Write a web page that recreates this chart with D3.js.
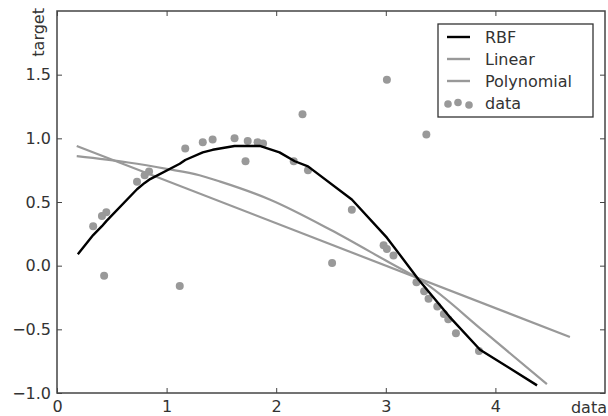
<!DOCTYPE html>
<html>
<meta charset="utf-8">
<head>
    <script src="https://d3js.org/d3.v7.min.js"></script>
    <style>
        body { margin: 0; background: #fff; }
        text { font-family: "DejaVu Sans", sans-serif; fill: #333; }
    </style>
</head>
<body>
    <script>
        // scattered data points (x, target)
        var dataX = [0.33, 0.41, 0.45, 0.43, 0.73, 0.80, 0.84, 1.12, 1.17, 1.33, 1.42, 1.62, 1.72, 1.74,
                     1.83, 1.88, 2.16, 2.24, 2.29, 2.51, 2.69, 2.98, 3.01, 3.01, 3.07, 3.28, 3.35, 3.37,
                     3.39, 3.47, 3.53, 3.57, 3.64, 3.85];
        var dataY = [0.31, 0.39, 0.42, -0.08, 0.66, 0.71, 0.74, -0.16, 0.92, 0.97, 0.99, 1.00, 0.82, 0.98,
                     0.97, 0.96, 0.82, 1.19, 0.75, 0.02, 0.44, 0.16, 0.13, 1.46, 0.08, -0.13, -0.20, 1.03,
                     -0.26, -0.32, -0.38, -0.42, -0.53, -0.67];

        // model predictions
        var rbfX = [0.19, 0.33, 0.41, 0.45, 0.73, 0.80, 0.85, 1.12, 1.17, 1.33, 1.42, 1.62, 1.74, 1.85,
                    2.03, 2.17, 2.29, 2.69, 3.01, 3.30, 3.58, 3.86, 4.38];
        var rbfY = [0.09, 0.24, 0.31, 0.35, 0.60, 0.65, 0.68, 0.80, 0.83, 0.89, 0.91, 0.94, 0.94, 0.94,
                    0.89, 0.82, 0.78, 0.52, 0.22, -0.11, -0.40, -0.66, -0.94];

        var linX = [0.18, 4.68];
        var linY = [0.94, -0.56];

        var polyX = [0.18, 0.65, 1.00, 1.30, 1.49, 1.94, 2.50, 3.00, 3.33, 3.90, 4.47];
        var polyY = [0.86, 0.81, 0.76, 0.71, 0.66, 0.52, 0.28, 0.04, -0.12, -0.52, -0.93];

        var xTicks = [0, 1, 2, 3, 4];
        var yTicks = [-1.0, -0.5, 0.0, 0.5, 1.0, 1.5];

        var width = 608, height = 416;
        var pLeft = 57, pRight = 605, pTop = 11, pBottom = 393;

        var svg = d3.select("body").append("svg")
            .attr("width", width)
            .attr("height", height);

        var x = d3.scaleLinear().domain([0, 5]).range([pLeft, pRight]);
        var y = d3.scaleLinear().domain([-1, 2]).range([pBottom, pTop]);

        var fmt = function(d) { return d3.format(".1f")(d).replace("-", "\u2212"); };

        // axes with inward ticks
        svg.append("g")
            .attr("transform", "translate(0," + pBottom + ")")
            .call(d3.axisBottom(x).tickValues(xTicks).tickSize(-5).tickPadding(8).tickFormat(d3.format("d")))
            .call(styleAxis);
        svg.append("g")
            .attr("transform", "translate(0," + pTop + ")")
            .call(d3.axisTop(x).tickValues(xTicks).tickSize(-5).tickFormat(""))
            .call(styleAxis);
        svg.append("g")
            .attr("transform", "translate(" + pLeft + ",0)")
            .call(d3.axisLeft(y).tickValues(yTicks).tickSize(-5).tickPadding(6).tickFormat(fmt))
            .call(styleAxis);
        svg.append("g")
            .attr("transform", "translate(" + pRight + ",0)")
            .call(d3.axisRight(y).tickValues(yTicks).tickSize(-5).tickFormat(""))
            .call(styleAxis);

        function styleAxis(g) {
            g.select(".domain").remove();
            g.selectAll(".tick line").attr("stroke", "#444").attr("stroke-width", 1);
            g.selectAll(".tick text").attr("font-size", 16).attr("fill", "#333")
                .attr("font-family", "DejaVu Sans, sans-serif");
        }

        svg.append("rect")
            .attr("x", pLeft).attr("y", pTop)
            .attr("width", pRight - pLeft).attr("height", pBottom - pTop)
            .attr("fill", "none").attr("stroke", "#444").attr("stroke-width", 1.5);

        svg.append("text")
            .attr("x", 607).attr("y", 413)
            .attr("text-anchor", "end")
            .attr("font-size", 16)
            .text("data");

        svg.append("text")
            .attr("transform", "translate(44,8) rotate(-90)")
            .attr("text-anchor", "end")
            .attr("font-size", 16)
            .text("target");

        var line = d3.line().x(function(d) { return x(d[0]); }).y(function(d) { return y(d[1]); });
        var smooth = d3.line().curve(d3.curveMonotoneX)
            .x(function(d) { return x(d[0]); }).y(function(d) { return y(d[1]); });

        svg.append("g").selectAll("circle")
            .data(d3.zip(dataX, dataY))
            .enter().append("circle")
            .attr("cx", function(d) { return x(d[0]); })
            .attr("cy", function(d) { return y(d[1]); })
            .attr("r", 4)
            .attr("fill", "#999");

        svg.append("path").datum(d3.zip(polyX, polyY))
            .attr("d", smooth).attr("fill", "none").attr("stroke", "#999").attr("stroke-width", 2.2);
        svg.append("path").datum(d3.zip(linX, linY))
            .attr("d", line).attr("fill", "none").attr("stroke", "#999").attr("stroke-width", 2.2);
        svg.append("path").datum(d3.zip(rbfX, rbfY))
            .attr("d", line).attr("fill", "none").attr("stroke", "#000").attr("stroke-width", 2.4)
            .attr("stroke-linejoin", "round");

        // legend
        var lg = svg.append("g");
        lg.append("rect")
            .attr("x", 438).attr("y", 24).attr("width", 155).attr("height", 93)
            .attr("fill", "#fff").attr("stroke", "#333").attr("stroke-width", 1.3);
        var items = [
            { name: "RBF", color: "#000" },
            { name: "Linear", color: "#999" },
            { name: "Polynomial", color: "#999" },
            { name: "data", color: "#999" }
        ];
        items.forEach(function(it, i) {
            var cy = 37 + i * 22;
            if (it.name === "data") {
                [[448, 1], [458, -0.5], [469, 2]].forEach(function(p) {
                    lg.append("circle").attr("cx", p[0]).attr("cy", cy + p[1]).attr("r", 3.8).attr("fill", it.color);
                });
            } else {
                lg.append("line")
                    .attr("x1", 447).attr("x2", 470).attr("y1", cy).attr("y2", cy)
                    .attr("stroke", it.color).attr("stroke-width", 2.4);
            }
            lg.append("text").attr("x", 485).attr("y", cy + 5.5)
                .attr("font-size", 16).text(it.name);
        });
    </script>
</body>
</html>
